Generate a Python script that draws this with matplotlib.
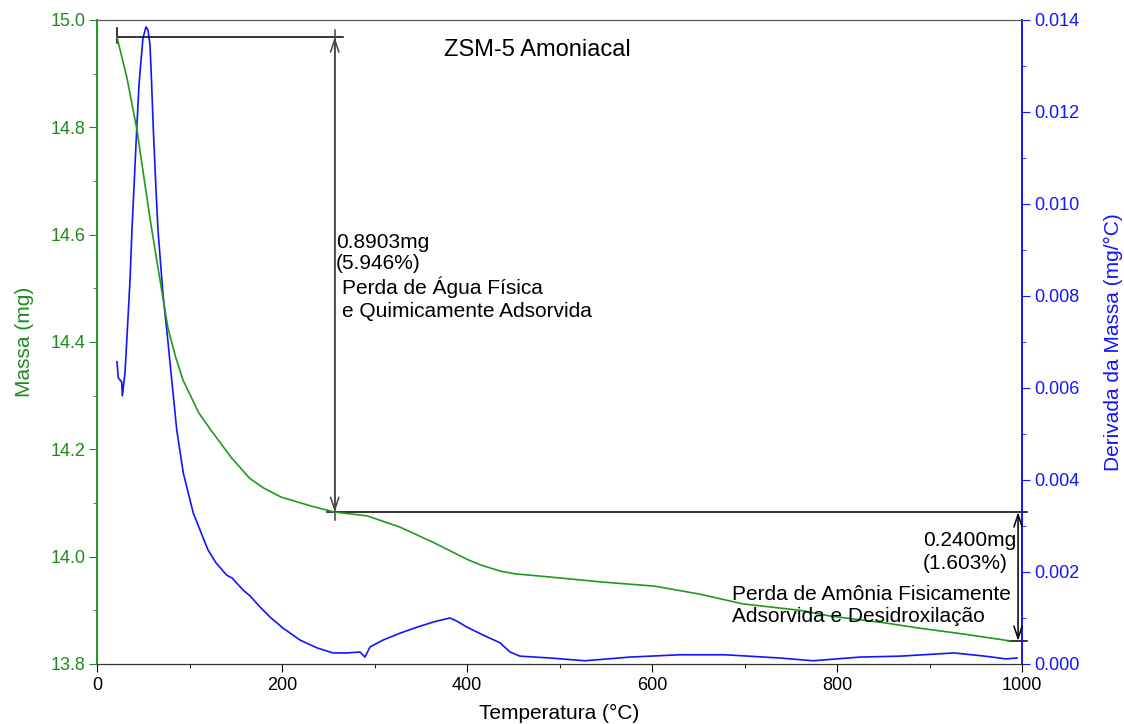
import matplotlib
matplotlib.use("Agg")
from matplotlib import pyplot as plt
from matplotlib.ticker import MultipleLocator, FormatStrFormatter

plt.rcParams['font.family'] = ['Liberation Sans', 'DejaVu Sans']

# Massa (TG)
temp_mass = [21.6, 32.4, 43.2, 50.0, 57.3, 65.0, 76.8, 85.0, 93.0, 110.0, 122.2,
             145.0, 165.0, 180.0, 199.0, 230.0, 257.0, 292.0, 327.6, 363.0, 400.0,
             414.0, 436.0, 452.0, 490.0, 544.0, 603.0, 652.0, 698.0, 760.0, 793.5,
             850.0, 888.0, 940.0, 987.0]
mass = [14.968, 14.892, 14.795, 14.715, 14.630, 14.548, 14.425, 14.372, 14.329,
        14.268, 14.238, 14.185, 14.146, 14.128, 14.111, 14.095, 14.083, 14.076,
        14.055, 14.027, 13.995, 13.985, 13.973, 13.968, 13.962, 13.953, 13.945,
        13.930, 13.912, 13.900, 13.889, 13.877, 13.867, 13.855, 13.843]

# Derivada (DTG)
temp_dtg = [21.6, 23.0, 26.7, 27.4, 30.3, 32.8, 35.7, 37.8, 42.9, 45.4, 47.6, 49.7,
            53.0, 55.1, 57.3, 58.9, 60.9, 63.8, 65.9, 71.4, 76.0, 80.8, 86.2, 93.3,
            104.1, 111.4, 120.0, 128.6, 140.2, 146.0, 157.8, 165.4, 176.2, 187.0,
            201.1, 219.5, 237.8, 255.1, 270.3, 284.3, 289.7, 295.1, 309.2, 327.6,
            345.9, 363.2, 373.0, 381.6, 389.2, 400.0, 417.3, 435.7, 446.5, 457.3,
            489.7, 527.6, 576.0, 630.0, 679.0, 738.0, 774.0, 825.0, 868.0, 926.5,
            960.0, 982.7, 994.6]
dtg = [0.00657, 0.00622, 0.00613, 0.00583, 0.00633, 0.00726, 0.00835, 0.00944,
       0.01161, 0.01259, 0.01313, 0.01361, 0.01385, 0.01378, 0.01346, 0.01270,
       0.01161, 0.01030, 0.00944, 0.00802, 0.00715, 0.00617, 0.00509, 0.00415,
       0.00328, 0.00291, 0.00248, 0.00220, 0.00193, 0.00187, 0.00161, 0.00148,
       0.00124, 0.00102, 0.00078, 0.00052, 0.00035, 0.00024, 0.00024, 0.00026,
       0.00015, 0.00037, 0.00052, 0.00067, 0.00080, 0.00091, 0.00096, 0.00100,
       0.00093, 0.00080, 0.00063, 0.00046, 0.00026, 0.00017, 0.00013, 0.00007,
       0.00015, 0.00020, 0.00020, 0.00013, 0.00007, 0.00015, 0.00017, 0.00024,
       0.00017, 0.00011, 0.00013]

# steps: temperature of the arrow, mass before, mass after
step1 = (257.0, 14.968, 14.083)
step2 = (995.7, 14.083, 13.843)

GREEN = "#1f9a1f"
GREEN_TXT = "#1e8a1e"
BLUE = "#1414ff"

fig = plt.figure(figsize=(11.24, 7.24), dpi=100)
ax = fig.add_axes([0.0863, 0.0829, 0.823, 0.8895])
ax2 = ax.twinx()

ax.plot(temp_mass, mass, color=GREEN, lw=1.2, zorder=3)
ax2.plot(temp_dtg, dtg, color=BLUE, lw=1.2)

ax.set_xlim(0, 1000)
ax.set_ylim(13.8, 15.0)
ax2.set_ylim(0, 0.014)

ax.xaxis.set_major_locator(MultipleLocator(200))
ax.xaxis.set_minor_locator(MultipleLocator(100))
ax.yaxis.set_major_locator(MultipleLocator(0.2))
ax.yaxis.set_minor_locator(MultipleLocator(0.1))
ax.yaxis.set_major_formatter(FormatStrFormatter('%.1f'))
ax2.yaxis.set_major_locator(MultipleLocator(0.002))
ax2.yaxis.set_minor_locator(MultipleLocator(0.001))
ax2.yaxis.set_major_formatter(FormatStrFormatter('%.3f'))

ax.tick_params(axis='x', which='major', length=5.5, labelsize=13, pad=4)
ax.tick_params(axis='x', which='minor', length=3)
ax.tick_params(axis='y', which='major', length=5.5, colors=GREEN_TXT, labelsize=13, pad=3)
ax.tick_params(axis='y', which='minor', length=3, colors=GREEN_TXT)
ax2.tick_params(axis='y', which='major', length=5.5, colors=BLUE, labelsize=13, pad=3)
ax2.tick_params(axis='y', which='minor', length=3, colors=BLUE)

for a in (ax, ax2):
    a.spines['left'].set_color(GREEN)
    a.spines['right'].set_color(BLUE)
    a.spines['top'].set_color("#555555")
    a.spines['bottom'].set_color("#333333")
    a.spines['left'].set_linewidth(1.2)
    a.spines['right'].set_linewidth(1.2)

ax.set_xlabel("Temperatura (°C)", fontsize=15, labelpad=7)
ax.set_ylabel("Massa (mg)", fontsize=15, color=GREEN_TXT, labelpad=12)
ax2.set_ylabel("Derivada da Massa (mg/°C)", fontsize=15, color=BLUE, labelpad=18)

# mass axes above the derivative one, for annotations
ax.set_zorder(2)
ax.patch.set_visible(False)

# ---- step 1 annotation
t1, top1, bot1 = step1
ax.plot([21.6, 266], [top1, top1], color="black", lw=1.1, clip_on=False)
ax.plot([21.6, 21.6], [14.985, 14.957], color="black", lw=1.1)
ax.plot([t1, t1], [14.982, 14.068], color="#444444", lw=1.1, clip_on=False)
ax.annotate("", xy=(t1, top1), xytext=(t1, bot1),
            arrowprops=dict(arrowstyle="<->,head_length=0.9,head_width=0.3",
                            color="#444444", lw=1.1, shrinkA=0, shrinkB=0))
ax.plot([249, 1005], [bot1, bot1], color="black", lw=1.1, clip_on=False)

# ---- step 2 annotation
t2, top2, bot2 = step2
ax.annotate("", xy=(t2, top2), xytext=(t2, bot2),
            arrowprops=dict(arrowstyle="<->,head_length=0.9,head_width=0.3",
                            color="black", lw=1.1, shrinkA=0, shrinkB=0),
            annotation_clip=False)
ax.plot([985, 1005], [bot2, bot2], color="black", lw=1.1, clip_on=False)

ax.text(475.7, 14.933, "ZSM-5 Amoniacal", fontsize=17, ha="center", va="baseline")

ax.text(258.5, 14.575, "0.8903mg", fontsize=15, va="baseline")
ax.text(258.5, 14.536, "(5.946%)", fontsize=15, va="baseline")
ax.text(264.5, 14.489, "Perda de Água Física", fontsize=15, va="baseline")
ax.text(264.5, 14.447, "e Quimicamente Adsorvida", fontsize=15, va="baseline")

ax.text(892.6, 14.019, "0.2400mg", fontsize=15, va="baseline")
ax.text(892.6, 13.977, "(1.603%)", fontsize=15, va="baseline")
ax.text(686.5, 13.919, "Perda de Amônia Fisicamente", fontsize=15, va="baseline")
ax.text(686.5, 13.878, "Adsorvida e Desidroxilação", fontsize=15, va="baseline")

fig.savefig("out.png", dpi=100)
